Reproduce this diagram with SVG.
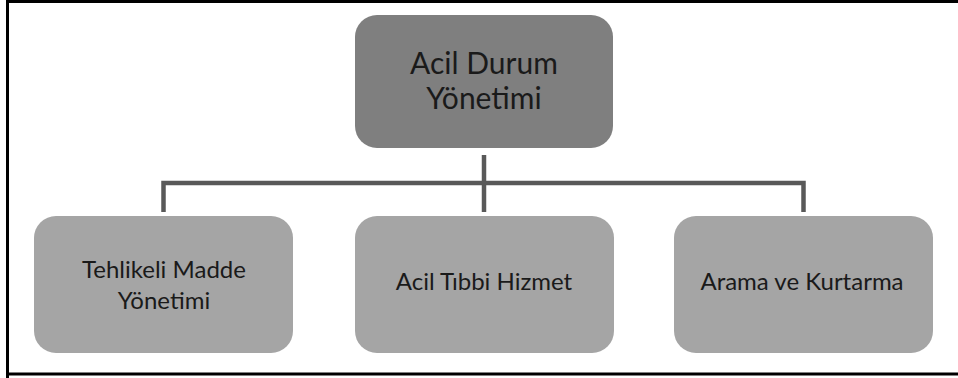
<svg xmlns="http://www.w3.org/2000/svg" width="958" height="378" viewBox="0 0 958 378">
<style>
.frame{fill:none;stroke:#000;stroke-width:3}
.top{fill:#7f7f7f}
.child{fill:#a5a5a5}
.conn{fill:none;stroke:#595959;stroke-width:4.5}
.t{font-family:Lato,"Open Sans","Liberation Sans",sans-serif;fill:#1a1a1a;text-anchor:middle}
.tl{font-size:30px}
.ts{font-size:24px}
</style>
<rect x="0" y="0" width="958" height="378" fill="#fff"/>
<path class="frame" d="M7.5,378 V1.5 H958 M7.5,374 H958"/>
<g id="connectors">
<path class="conn" d="M484,155 V212"/>
<path class="conn" d="M163.5,212 V183 H803.5 V212"/>
</g>
<g id="node-acil-durum">
<rect class="top" x="355" y="15" width="258" height="133" rx="22"/>
<text class="t tl" x="484" y="74">Acil Durum</text>
<text class="t tl" x="484" y="109">Yönetimi</text>
</g>
<g id="node-tehlikeli">
<rect class="child" x="34" y="216" width="259" height="137" rx="22"/>
<text class="t ts" x="164" y="278">Tehlikeli Madde</text>
<text class="t ts" x="164" y="309">Yönetimi</text>
</g>
<g id="node-tibbi">
<rect class="child" x="355" y="216" width="259" height="137" rx="22"/>
<text class="t ts" x="484" y="290">Acil Tıbbi Hizmet</text>
</g>
<g id="node-arama">
<rect class="child" x="674" y="216" width="259" height="137" rx="22"/>
<text class="t ts" x="802" y="290">Arama ve Kurtarma</text>
</g>
</svg>
